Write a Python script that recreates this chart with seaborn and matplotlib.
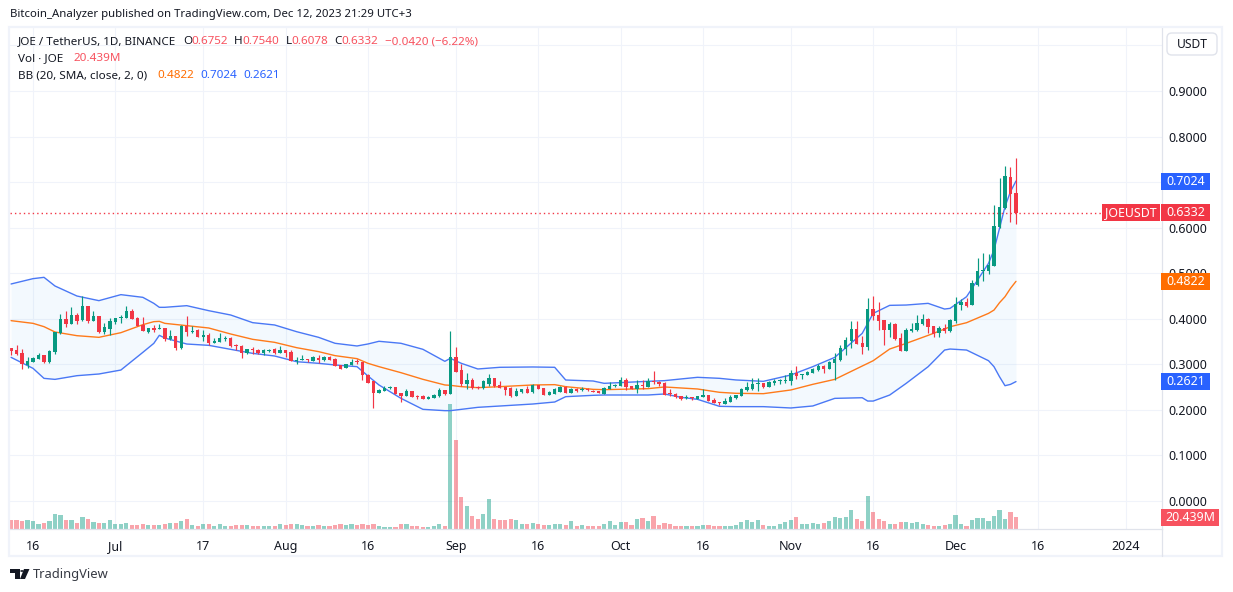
import numpy as np
import pandas as pd
import matplotlib
matplotlib.use("Agg")
import matplotlib.pyplot as plt
from matplotlib.patches import Rectangle, FancyBboxPatch, Polygon
import seaborn as sns

# daily candles, days counted from Jun 16 2023
days = list(range(-4, 180))

opens = [
    .3359,.3315,.3249,.2985,.3058,.3117,.3205,.3051,.3271,.3681,
    .3995,.3886,.4083,.3966,.4281,.3951,.4061,.3710,.3776,.3922,
    .4017,.4017,.4171,.4017,.3864,.3710,.3798,.3783,.3798,.3556,
    .3622,.3351,.3849,.3710,.3754,.3600,.3644,.3468,.3490,.3563,
    .3578,.3424,.3402,.3249,.3329,.3315,.3249,.3300,.3329,.3249,
    .3315,.3271,.3066,
    .3103,.3110,.3074,.3140,.3096,.3169,.3118,.2986,.2927,.2986,
    .3074,.3052,.2766,.2634,.2371,.2415,.2488,.2503,.2371,.2305,
    .2415,.2305,.2305,.2239,.2261,.2305,.2437,.2349,.3161,.2876,
    .2569,.2656,.2503,.2481,.2569,.2700,.2547,.2503,.2481,.2305,
    .2393,.2459,.2393,.2547,.2481,.2327,.2349,.2393,.2503,.2371,
    .2459,.2429,.2451,.2415,.2415,
    .2349,.2459,.2525,.2525,.2657,.2525,.2459,.2547,.2503,.2635,
    .2613,.2591,.2371,.2349,.2298,.2261,.2276,.2239,.2283,.2327,
    .2217,.2173,.2130,.2173,.2261,.2305,.2437,.2459,.2576,.2591,
    .2503,.2591,.2635,.2635,.2635,.2810,.2774,.2766,.2810,.2876,
    .2963,.2897,.3029,.3094,.3336,.3512,.3775,.3468,.3380,.4214,
    .4083,.3973,.3753,.3885,.3578,.3292,.3731,.3753,.3885,.3995,
    .3841,.3687,.3797,.3731,.3951,.4302,.4368,.4302,.4741,.5049,
    .5049,.5159,.6015,.6432,.7113,.6752,
]
closes = [
    .3293,.3219,.3000,.3066,.3139,.3205,.3058,.3300,.3710,.3995,
    .3886,.4083,.3944,.4281,.3944,.4061,.3710,.3820,.3951,.4017,
    .4039,.4171,.3995,.3842,.3732,.3798,.3754,.3798,.3556,.3622,
    .3359,.3849,.3710,.3732,.3600,.3644,.3468,.3512,.3578,.3585,
    .3402,.3410,.3256,.3337,.3307,.3249,.3315,.3315,.3249,.3315,
    .3256,.3073,.3088,
    .3118,.3088,.3154,.3096,.3161,.3096,.2971,.2898,.3008,.3052,
    .3052,.2766,.2591,.2371,.2437,.2481,.2503,.2349,.2305,.2415,
    .2283,.2283,.2239,.2283,.2327,.2444,.2349,.3161,.2832,.2569,
    .2656,.2481,.2481,.2634,.2700,.2525,.2481,.2437,.2305,.2415,
    .2459,.2371,.2547,.2459,.2327,.2393,.2459,.2503,.2371,.2459,
    .2415,.2451,.2429,.2400,.2371,
    .2481,.2525,.2547,.2657,.2503,.2459,.2547,.2525,.2635,.2613,
    .2569,.2327,.2349,.2283,.2239,.2283,.2261,.2305,.2327,.2195,
    .2152,.2159,.2195,.2283,.2327,.2459,.2503,.2569,.2591,.2503,
    .2613,.2635,.2657,.2657,.2810,.2744,.2788,.2832,.2898,.2964,
    .2897,.3050,.3116,.3358,.3534,.3775,.3446,.3380,.4214,.4061,
    .3951,.3753,.3885,.3556,.3292,.3753,.3775,.3907,.3995,.3819,
    .3665,.3797,.3731,.3973,.4324,.4368,.4280,.4785,.5049,.5071,
    .5181,.6037,.6454,.7135,.6740,.6332,
]
highs = [
    .3359,.3424,.3337,.3154,.3154,.3241,.3205,.3315,.3717,.4105,
    .4171,.4259,.4134,.4508,.4281,.4171,.4061,.3900,.4010,.4017,
    .4083,.4281,.4215,.4039,.4039,.3798,.3864,.3878,.3798,.3754,
    .3622,.3864,.4061,.3842,.3776,.3754,.3688,.3578,.3688,.3622,
    .3600,.3446,.3417,.3337,.3380,.3337,.3344,.3337,.3359,.3402,
    .3315,.3315,.3161,
    .3205,.3110,.3183,.3205,.3183,.3183,.3140,.2986,.3008,.3118,
    .3118,.3052,.2788,.2634,.2459,.2525,.2525,.2503,.2371,.2459,
    .2415,.2327,.2320,.2305,.2349,.2481,.2437,.3732,.3381,.3008,
    .2810,.2700,.2525,.2656,.2788,.2700,.2634,.2503,.2503,.2481,
    .2459,.2525,.2569,.2547,.2481,.2415,.2481,.2525,.2525,.2481,
    .2481,.2503,.2481,.2437,.2415,
    .2503,.2613,.2569,.2722,.2701,.2525,.2657,.2657,.2701,.2854,
    .2635,.2613,.2459,.2371,.2305,.2327,.2283,.2305,.2459,.2327,
    .2261,.2173,.2261,.2327,.2327,.2481,.2613,.2701,.2701,.2591,
    .2635,.2679,.2679,.2766,.2876,.2964,.2788,.2854,.2920,.3008,
    .2985,.3072,.3248,.3424,.3599,.3951,.3951,.3621,.4456,.4500,
    .4368,.3973,.3929,.3907,.3687,.3797,.3907,.4083,.4105,.4017,
    .3841,.3841,.3885,.3995,.4478,.4434,.4456,.4851,.5334,.5444,
    .5422,.6498,.7091,.7355,.7333,.7540,
]
lows = [
    .3205,.3197,.2897,.2912,.3051,.3110,.3036,.3036,.3227,.3666,
    .3820,.3886,.3886,.3951,.3908,.3951,.3688,.3666,.3644,.3886,
    .3908,.4010,.3988,.3842,.3732,.3688,.3710,.3776,.3512,.3534,
    .3315,.3337,.3622,.3688,.3600,.3512,.3424,.3468,.3490,.3520,
    .3388,.3315,.3139,.3227,.3219,.3227,.3205,.3271,.3227,.3249,
    .3161,.3066,.3007,
    .3096,.3052,.3066,.3022,.3081,.3096,.2964,.2898,.2920,.2986,
    .3008,.2656,.2591,.2042,.2371,.2415,.2459,.2349,.2173,.2305,
    .2283,.2239,.2239,.2239,.2261,.2283,.2327,.2349,.2832,.2525,
    .2459,.2459,.2459,.2459,.2525,.2503,.2481,.2327,.2283,.2305,
    .2371,.2371,.2371,.2459,.2327,.2327,.2349,.2393,.2371,.2371,
    .2393,.2422,.2415,.2393,.2371,
    .2349,.2459,.2503,.2525,.2437,.2459,.2371,.2459,.2503,.2569,
    .2525,.2327,.2305,.2261,.2217,.2239,.2217,.2239,.2283,.2195,
    .2152,.2108,.2130,.2173,.2239,.2305,.2415,.2437,.2415,.2481,
    .2503,.2547,.2569,.2591,.2547,.2679,.2679,.2766,.2810,.2854,
    .2809,.2897,.2655,.3072,.3204,.3358,.3446,.3226,.3314,.3973,
    .3753,.3424,.3599,.3534,.3292,.3292,.3709,.3731,.3863,.3687,
    .3599,.3599,.3687,.3709,.3907,.4192,.4258,.4302,.4719,.4829,
    .4983,.5159,.5993,.6410,.6125,.6078,
]
# volume in millions of JOE
volumes = [
    15.5,15.5,13.8,15.5,13.8,8.8,9.4,13.8,25.4,23.8,
    15.5,15.5,10.5,20.5,17.1,12.2,10.5,10.5,15.5,8.8,
    8.8,10.5,7.2,7.2,8.8,7.2,7.2,7.2,8.8,10.5,
    10.5,13.8,17.1,7.2,5.5,8.8,8.8,5.5,8.8,5.5,
    5.5,7.2,7.2,7.2,5.5,5.5,5.5,5.5,5.5,8.8,
    7.2,8.8,8.8,7.2,5.5,5.5,7.2,5.5,5.5,7.2,
    8.8,7.2,8.8,7.2,8.8,7.2,8.8,5.5,3.9,3.9,
    3.9,8.8,8.8,5.5,5.5,3.9,3.9,5.5,8.8,5.5,
    208,148,53.6,38.7,22.1,17.1,25.4,50.3,17.1,15.5,
    15.5,17.1,15.5,8.8,8.8,10.5,8.8,7.2,7.2,8.8,
    8.8,7.2,13.8,5.5,7.2,5.5,5.5,5.5,8.8,13.8,
    7.2,12.2,12.2,7.2,17.1,18.8,13.8,22.1,7.2,10.5,
    8.8,5.5,5.5,5.5,5.5,5.5,7.2,7.2,5.5,5.5,
    5.5,5.5,7.2,12.2,15.5,12.2,15.5,7.2,5.5,5.5,
    8.8,12.2,15.5,20.5,8.8,8.8,10.5,8.8,10.5,13.8,
    20.5,18.8,20.5,32.1,17.1,13.8,55.3,28.8,17.1,13.8,
    8.8,8.8,12.2,12.2,10.5,12.2,8.8,7.2,5.5,5.5,
    7.2,8.8,23.8,8.8,5.5,15.5,18.8,18.8,13.8,22.1,
    32.1,17.1,28.8,20.439,
]

# bollinger band readings
bb_days = [
    -4,0,2,4,8,12,16,20,22,23,24,28,32,36,40,44,48,
    52,55,59,61,63,67,71,75,76,78,81,85,91,95,97,102,
    104,112,115,118,121,125,128,133,138,142,146,
    151,152,153,156,159,163,166,167,170,174,175,176,177,178,179,
]
bb_upper = [
    .4764,.4881,.4910,.4720,.4500,.4398,.4530,.4471,.4339,.4252,.4252,.4288,.4178,.4083,.3915,.3864,.3717,
    .3593,.3462,.3403,.3447,.3506,.3462,.3330,.3066,.3132,.3022,.2898,.2935,.2942,.2935,.2656,.2634,
    .2583,.2627,.2642,.2679,.2715,.2693,.2657,.2627,.2766,.2949,.3153,
    .3680,.3900,.4119,.4295,.4302,.4339,.4214,.4229,.4485,.5217,.5510,.5986,.6462,.6791,.7024,
]
bb_basis = [
    .3959,.3900,.3827,.3710,.3629,.3593,.3695,.3871,.3937,.3944,.3900,.3849,.3798,.3666,.3549,.3483,.3366,
    .3279,.3191,.3125,.3022,.2949,.2817,.2671,.2547,.2539,.2510,.2488,.2510,.2547,.2554,.2510,.2451,
    .2444,.2466,.2503,.2481,.2459,.2386,.2364,.2356,.2437,.2561,.2670,
    .2963,.3021,.3080,.3336,.3460,.3636,.3775,.3826,.3914,.4119,.4192,.4353,.4485,.4668,.4822,
]
bb_lower = [
    .3154,.2912,.2692,.2670,.2751,.2788,.2875,.3263,.3461,.3637,.3578,.3446,.3417,.3329,.3241,.3183,.3058,
    .3022,.2986,.2949,.2744,.2547,.2254,.2012,.1983,.1983,.2012,.2056,.2085,.2129,.2173,.2290,.2320,
    .2327,.2327,.2349,.2276,.2232,.2078,.2071,.2071,.2042,.2086,.2253,
    .2267,.2194,.2194,.2326,.2582,.2948,.3314,.3336,.3314,.3080,.2948,.2728,.2531,.2560,.2621,
]

price_ticks = [0.0, 0.1, 0.2, 0.3, 0.4, 0.5, 0.6, 0.8, 0.9]
grid_prices = [0.0, 0.1, 0.2, 0.3, 0.4, 0.5, 0.6, 0.7, 0.8, 0.9, 1.0]
tick_days = [0, 15, 31, 46, 61, 77, 92, 107, 122, 138, 153, 168, 183, 199]
tick_labels = ["16", "Jul", "17", "Aug", "16", "Sep", "16", "Oct", "16", "Nov", "16", "Dec", "16", "2024"]

UP = "#089981"
DOWN = "#F23645"
BLUE = "#2962FF"
ORANGE = "#FF6D00"
INK = "#131722"
GRID = "#F0F3FA"
EDGE = "#E0E3EB"

W, H = 1233, 592

sns.set_theme(style="white")
plt.rcParams["font.family"] = ["Noto Sans", "DejaVu Sans"]

df = pd.DataFrame({"day": days, "open": opens, "high": highs, "low": lows,
                   "close": closes, "volume": volumes})
df["up"] = df["close"] >= df["open"]
bands = pd.DataFrame({"day": bb_days, "upper": bb_upper, "basis": bb_basis, "lower": bb_lower})

fig = plt.figure(figsize=(W / 100, H / 100), dpi=100, facecolor="white")
ax = fig.add_axes([10 / W, 1 - 529 / H, 1151.5 / W, 501 / H])
ax2 = ax.twinx()
ax.set_zorder(ax2.get_zorder() + 1)
ax.patch.set_visible(False)

ax.set_xlim(-4.19, 205.5)
ax.set_ylim(-0.0615, 1.0384)

# volume pane sits at the bottom of the same chart
sns.barplot(data=df, x="day", y="volume", hue="up", palette={True: UP, False: DOWN},
            native_scale=True, dodge=False, width=1.0, gap=0, saturation=1, alpha=0.45,
            errorbar=None, legend=False, lw=0, ax=ax2)
for bar in ax2.patches:
    bar.set_x(bar.get_x() + bar.get_width() / 2 - 0.38)
    bar.set_width(0.76)

# grid goes under the volume bars
for p in grid_prices:
    ax2.plot([0, 1], [p, p], transform=ax.get_yaxis_transform(), color=GRID, lw=0.8, zorder=0)
for d in tick_days:
    ax2.axvline(d, color=GRID, lw=0.8, zorder=0)
ax2.set_xlim(-4.19, 205.5)
ax2.set_ylim(0, 832)
ax2.axis("off")

ax.fill_between(bands["day"], bands["upper"], bands["lower"], color="#2196F3", alpha=0.05, lw=0, zorder=1)
sns.lineplot(data=bands, x="day", y="basis", color="#FF7A1A", lw=1.0, estimator=None, ax=ax, zorder=2)
sns.lineplot(data=bands, x="day", y="upper", color="#4A78F5", lw=1.0, estimator=None, ax=ax, zorder=2)
sns.lineplot(data=bands, x="day", y="lower", color="#4A78F5", lw=1.0, estimator=None, ax=ax, zorder=2)

colors = [UP if u else DOWN for u in df["up"]]
ax.vlines(df["day"], df["low"], df["high"], colors=colors, lw=0.85, zorder=3)
ax.bar(df["day"], np.abs(df["close"] - df["open"]), bottom=df[["open", "close"]].min(axis=1),
       width=0.62, color=colors, lw=0, zorder=4)

ax.axhline(closes[-1], color=DOWN, lw=1, ls=(0, (1, 2.2)), zorder=3)

ax.set_xlim(-4.19, 205.5)
ax.set_ylim(-0.0615, 1.0384)
ax.set_xlabel("")
ax.set_ylabel("")
ax.set_xticks(tick_days, tick_labels)
ax.set_yticks(price_ticks, [f"{p:.4f}" for p in price_ticks])
ax.yaxis.tick_right()
ax.tick_params(axis="x", length=0, pad=8, labelsize=9, labelcolor=INK)
ax.tick_params(axis="y", length=0, pad=5, labelsize=9, labelcolor=INK)
for s in ["top", "left"]:
    ax.spines[s].set_visible(False)
for s in ["right", "bottom"]:
    ax.spines[s].set_color(EDGE)
    ax.spines[s].set_linewidth(0.9)


def fx(x):
    return x / W


def fy(y):
    return 1 - y / H


def text_at(x, y, s, color=INK, size=8.4, **kw):
    fig.text(fx(x), fy(y), s, color=color, fontsize=size, va="center", **kw)


def tag(y, s, color, x0=1161, x1=1210, h=17):
    fig.add_artist(Rectangle((fx(x0), fy(y + h / 2)), (x1 - x0) / W, h / H, transform=fig.transFigure,
                             facecolor=color, edgecolor="none", zorder=5))
    fig.text(fx((x0 + x1) / 2), fy(y), s, color="white", fontsize=8.9, ha="center", va="center", zorder=6)


def price_y(p):
    return H - ax.transData.transform((0, p))[1]


# outer frame and the boundary of the date axis
fig.add_artist(Rectangle((fx(9), fy(556)), 1213 / W, 529 / H, transform=fig.transFigure,
                         facecolor="none", edgecolor=GRID, lw=1.6, zorder=4))
fig.add_artist(plt.Line2D([fx(1161.5)] * 2, [fy(529), fy(556)], color=EDGE, lw=0.9, zorder=4))

text_at(10, 15, "Bitcoin_Analyzer published on TradingView.com, Dec 12, 2023 21:29 UTC+3", size=8.2)

LOSS = "#F7525F"
text_at(18, 41.5, "JOE / TetherUS, 1D, BINANCE")
text_at(183, 41.5, "O")
text_at(191, 41.5, "0.6752", color=LOSS)
text_at(234, 41.5, "H")
text_at(242, 41.5, "0.7540", color=LOSS)
text_at(286, 41.5, "L")
text_at(291, 41.5, "0.6078", color=LOSS)
text_at(334, 41.5, "C")
text_at(341, 41.5, "0.6332", color=LOSS)
text_at(385, 41.5, "\u22120.0420 (\u22126.22%)", color=LOSS)
text_at(18, 58.5, "Vol \u00b7 JOE")
text_at(73, 58.5, "20.439M", color=LOSS)
text_at(18, 75.5, "BB (20, SMA, close, 2, 0)")
text_at(157, 75.5, "0.4822", color=ORANGE)
text_at(200, 75.5, "0.7024", color=BLUE)
text_at(243, 75.5, "0.2621", color=BLUE)

# currency button
fig.add_artist(FancyBboxPatch((fx(1167), fy(55)), 50 / W, 22 / H, transform=fig.transFigure,
                              boxstyle="round,pad=0,rounding_size=0.004", mutation_aspect=2,
                              facecolor="white", edgecolor=EDGE, lw=1, zorder=5))
fig.text(fx(1192), fy(44), "USDT", color=INK, fontsize=8.7, ha="center", va="center", zorder=6)

tag(price_y(bb_upper[-1]), f"{bb_upper[-1]:.4f}", BLUE)
tag(price_y(closes[-1]), f"{closes[-1]:.4f}", DOWN)
tag(price_y(closes[-1]), "JOEUSDT", DOWN, x0=1102, x1=1160)
tag(price_y(bb_basis[-1]), f"{bb_basis[-1]:.4f}", ORANGE)
tag(price_y(bb_lower[-1]), f"{bb_lower[-1]:.4f}", BLUE)
tag(517.5, "20.439M", LOSS, x0=1161, x1=1219)

# TradingView mark
logo = [
    [(10, 569), (19.5, 569), (19.5, 579), (15, 579), (15, 572.5), (10, 572.5)],
    [(24, 569), (29.5, 569), (25, 579), (20, 579)],
]
for pts in logo:
    fig.add_artist(Polygon([(fx(x), fy(y)) for x, y in pts], transform=fig.transFigure,
                           facecolor=INK, edgecolor="none"))
fig.add_artist(plt.Circle((fx(22), fy(571)), 1.8 / W, transform=fig.transFigure, facecolor=INK, edgecolor="none"))
text_at(33, 574.5, "TradingView", size=9.3, alpha=0.85)

fig.savefig("out.png", dpi=100)
